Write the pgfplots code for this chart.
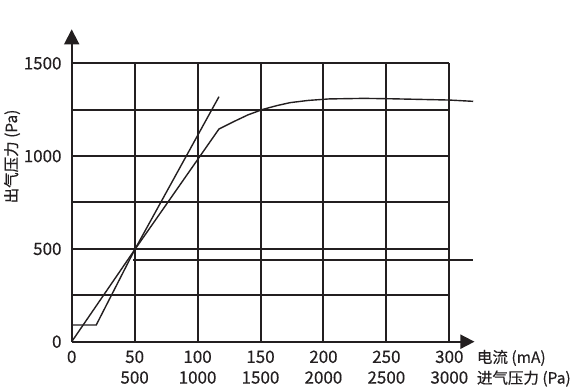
\documentclass[border=0pt]{standalone}
\usepackage{fontspec}
\setmainfont{Noto Sans CJK SC}[FakeBold=0.3]
\usepackage{pgfplots}
\pgfplotsset{compat=1.18}
\usetikzlibrary{arrows.meta}
\definecolor{ink}{RGB}{35,31,32}
\begin{document}
\begin{tikzpicture}
\begin{axis}[
  x=1.2587pt, y=0.1856pt,
  xmin=0, xmax=320, ymin=0, ymax=1683,
  axis lines=left,
  axis line style={ink, line width=1.8pt},
  x axis line style={-{Triangle[length=14pt,width=14pt]}},
  y axis line style={-{Triangle[length=15pt,width=15pt]}},
  clip=false,
  major tick length=0pt,
  /pgf/number format/assume math mode=true,
  xtick={0,50,100,150,200,250,300},
  xticklabels={{\strut 0},{\strut 50\\\strut 500},{\strut 100\\\strut 1000},{\strut 150\\\strut 1500},{\strut 200\\\strut 2000},{\strut 250\\\strut 2500},{\strut 300\\\strut 3000}},
  xticklabel style={align=center, anchor=north, inner sep=6.5pt, text=ink, font=\fontsize{17}{20.7}\selectfont},
  ytick={0,500,1000,1500},
  yticklabels={0,500,1000,1500},
  yticklabel style={anchor=east, inner xsep=10pt, inner ysep=0pt, text=ink, font=\fontsize{17}{20}\selectfont},
]
% grid
\pgfplotsinvokeforeach{50,100,150,200,250,300}{
  \draw[ink, line width=2pt] (axis cs:#1,0) -- (axis cs:#1,1500);
}
\pgfplotsinvokeforeach{250,500,750,1000,1250,1500}{
  \draw[ink, line width=2pt] (axis cs:0,#1) -- (axis cs:300,#1);
}
% curves
\addplot[ink, line width=1.4pt] coordinates {
  (0,0) (50,495) (117,1146) (128.5,1185) (140,1222) (152,1252) (163,1272)
  (173.5,1288) (188,1300) (204.5,1308) (232,1311) (253,1309) (280,1305)
  (300,1302) (319,1295)
};
\addplot[ink, line width=1.4pt] coordinates {
  (0,90) (19.5,90) (50,495) (117,1320)
};
\addplot[ink, line width=1.4pt] coordinates {
  (49,440) (319,440)
};
\node[rotate=90, ink, font=\fontsize{15.5}{18}\selectfont] at (axis cs:-47.4,998) {出气压力 (Pa)};
\node[anchor=north west, align=left, inner xsep=0pt, inner ysep=6.5pt, ink, font=\fontsize{15.5}{20.7}\selectfont] at (axis cs:321.8,0) {\strut 电流 (mA)\\\strut 进气压力 (Pa)};
\end{axis}
\pgfresetboundingbox
\path[use as bounding box] (-71.7pt,-48.3pt) rectangle (508.3pt,341.7pt);
\end{tikzpicture}
\end{document}
